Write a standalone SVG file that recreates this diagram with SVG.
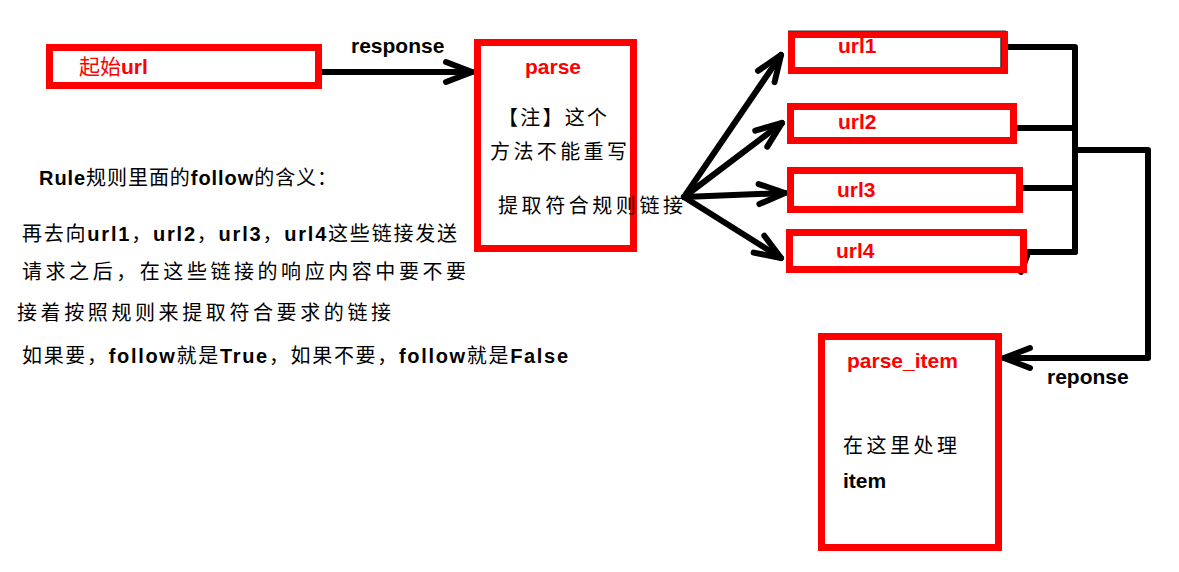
<svg xmlns="http://www.w3.org/2000/svg" width="1179" height="572" viewBox="0 0 1179 572">
  <style>
    .box { fill: #fff; stroke: #ff0000; stroke-width: 7; }
    .lbl { font-family: "Liberation Sans", "Noto Sans CJK SC", sans-serif; font-size: 21px; font-weight: bold; }
    .red { fill: #ff0000; }
    .blk { fill: #000; }
    .cn { font-family: "Noto Sans CJK SC", sans-serif; font-size: 20px; font-weight: normal; fill: #000; }
    .b { font-family: "Liberation Sans", sans-serif; font-weight: bold; }
    .conn { fill: none; stroke: #000; stroke-width: 6; stroke-linecap: round; stroke-linejoin: round; }
  </style>
  <defs>
    <marker id="arr" markerUnits="userSpaceOnUse" markerWidth="40" markerHeight="30" refX="0" refY="0" orient="auto" overflow="visible">
      <path d="M-26,-10 L0,0 L-26,10" fill="none" stroke="#000" stroke-width="6" stroke-linecap="round" stroke-linejoin="round"/>
    </marker>
  </defs>
  <rect width="1179" height="572" fill="#fff"/>

  <g id="connectors">
    <path class="conn" d="M322,72 H472" marker-end="url(#arr)"/>
    <path class="conn" d="M684,197 L781,55" marker-end="url(#arr)"/>
    <path class="conn" d="M684,197 L782,123" marker-end="url(#arr)"/>
    <path class="conn" d="M684,197 L785,193" marker-end="url(#arr)"/>
    <path class="conn" d="M684,197 L781,258" marker-end="url(#arr)"/>
    <path class="conn" d="M1006,47 H1075 V252"/>
    <path class="conn" d="M1017,128 H1075"/>
    <path class="conn" d="M1023,188 H1075"/>
    <path class="conn" d="M1027,252 H1075"/>
    <path class="conn" d="M1027,256 L1021,272"/>
    <path class="conn" d="M1075,150 H1148 V358 H1004" marker-end="url(#arr)"/>
  </g>

  <g id="start">
    <rect class="box" x="49.5" y="47.5" width="269" height="38"/>
    <text class="lbl red" x="79" y="74"><tspan font-family="Noto Sans CJK SC, sans-serif" font-weight="normal">起始</tspan>url</text>
  </g>
  <text id="label-response" class="lbl blk" x="351" y="53">response</text>

  <g id="parse">
    <rect class="box" x="477.5" y="42.5" width="156" height="206"/>
    <text class="lbl red" x="525" y="74">parse</text>
    <text class="cn" x="498" y="125" textLength="109" lengthAdjust="spacing">【注】这个</text>
    <text class="cn" x="490" y="159" textLength="137" lengthAdjust="spacing">方法不能重写</text>
    <text class="cn" x="498" y="213" textLength="185" lengthAdjust="spacing">提取符合规则链接</text>
  </g>

  <g id="url1">
    <rect class="box" x="791.5" y="34.5" width="213" height="36"/>
    <line x1="788" y1="31" x2="1006" y2="31" stroke="#333" stroke-width="1"/>
    <line x1="1001" y1="38" x2="1001" y2="67" stroke="#333" stroke-width="1.5"/>
    <text class="lbl red" x="838" y="53">url1</text>
  </g>
  <g id="url2">
    <rect class="box" x="790.5" y="106.5" width="223" height="34"/>
    <text class="lbl red" x="838" y="129">url2</text>
  </g>
  <g id="url3">
    <rect class="box" x="790.5" y="170.5" width="229" height="39"/>
    <text class="lbl red" x="837" y="197">url3</text>
  </g>
  <g id="url4">
    <rect class="box" x="789.5" y="232.5" width="234" height="37"/>
    <text class="lbl red" x="836" y="258">url4</text>
  </g>

  <g id="parse_item">
    <rect class="box" x="821.5" y="336.5" width="177" height="211"/>
    <text class="lbl red" x="847" y="368">parse_item</text>
    <text class="cn" x="843" y="453" textLength="114" lengthAdjust="spacing">在这里处理</text>
    <text class="lbl blk" x="843" y="488">item</text>
  </g>
  <text id="label-reponse" class="lbl blk" x="1047" y="384">reponse</text>

  <g id="notes">
    <text class="cn" x="39" y="185" textLength="298" lengthAdjust="spacing"><tspan class="b">Rule</tspan>规则里面的<tspan class="b">follow</tspan>的含义：</text>
    <text class="cn" x="22" y="241" textLength="435" lengthAdjust="spacing">再去向<tspan class="b">url1</tspan>，<tspan class="b">url2</tspan>，<tspan class="b">url3</tspan>，<tspan class="b">url4</tspan>这些链接发送</text>
    <text class="cn" x="22" y="279" textLength="444" lengthAdjust="spacing">请求之后，在这些链接的响应内容中要不要</text>
    <text class="cn" x="17" y="320" textLength="374" lengthAdjust="spacing">接着按照规则来提取符合要求的链接</text>
    <text class="cn" x="22" y="363" textLength="546" lengthAdjust="spacing">如果要，<tspan class="b">follow</tspan>就是<tspan class="b">True</tspan>，如果不要，<tspan class="b">follow</tspan>就是<tspan class="b">False</tspan></text>
  </g>
</svg>
